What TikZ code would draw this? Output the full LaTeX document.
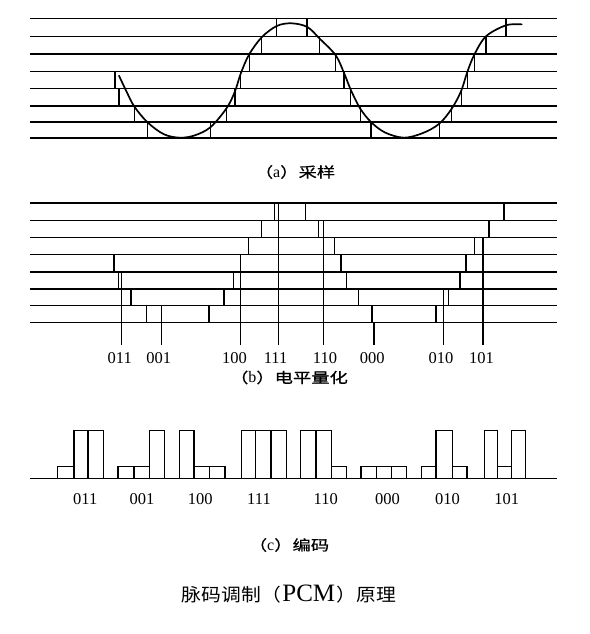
\documentclass[tikz,border=0pt]{standalone}
\usepackage{fontspec}
\setmainfont{Liberation Serif}
\newfontfamily\cjk[FakeStretch=1.28,FakeBold=0.6]{Noto Sans CJK SC}
\newfontfamily\cjkt[FakeStretch=1.1]{Noto Sans CJK SC}
\newcommand\capletter[1]{{\fontsize{16}{16}\selectfont #1}}
\begin{document}
\begin{tikzpicture}[x=1pt,y=-1pt,
  hline/.style={line width=1.25pt},
  vline/.style={line width=1.25pt},
  wave/.style={line width=1.7pt, line join=round, line cap=round},
  bar/.style={draw, line width=1.1pt},
  lab/.style={font=\fontsize{16.5}{17}\selectfont, inner sep=0pt},
  captext/.style={font=\fontsize{14.3}{15}\selectfont, inner sep=0pt},
  ttl/.style={font=\fontsize{18}{19}\selectfont, inner sep=0pt}]
\useasboundingbox[fill=white] (0,0) rectangle (589,634);

% ---------------- (a) sampling ----------------
\foreach \y in {138,122,106,88.7,71.3,54,36.3,18.7}
  \draw[hline] (30,\y) -- (557,\y);
\foreach \x/\k in {115/3,119/2,134.3/1,147.7/0,210.5/0,226.7/1,235/2,240.7/3,249.2/4,261.5/5,276.5/6,
                   307/6,319.8/5,335.5/4,344/3,350.7/2,360.2/1,371/0,
                   439.5/0,451.8/1,461.3/2,467.5/3,474.3/4,486/5,506/6} {
  \pgfmathtruncatemacro\kk{\k+1}
  \pgfmathsetmacro\ylo{{138,122,106,88.7,71.3,54,36.3,18.7}[\k]}
  \pgfmathsetmacro\yhi{{138,122,106,88.7,71.3,54,36.3,18.7}[\kk]}
  \draw[vline] (\x,\ylo) -- (\x,\yhi);
}
\draw[wave] plot[smooth, tension=0.55] coordinates {
  (119,75.7) (126.5,91.5) (134.3,106.5) (147.7,122.5) (164,134.3) (180,137.7) (195,135.3)
  (210.7,127) (226.7,108) (235,91.3) (240.7,73.7) (249,54.7) (261.7,37.3) (276.7,26)
  (291.5,23.3) (307.3,27) (319.7,38.7) (335.7,55.3) (344.3,73.7) (351,90.3) (360.3,108.7)
  (371,122) (385,132.5) (404,137.7) (423,133) (439.3,123.7) (451.7,108.7) (461,91.3)
  (467.3,72) (474.3,54.7) (486,36.3) (506,25.3) (521.7,24.4)};
\node[captext] (capa) at (295,172) {{\cjk （}\capletter{a}{\cjk ）采样}};

% ---------------- (b) quantisation ----------------
\foreach \y in {322.7,305.8,289,272,254.7,237.7,220.3,203}
  \draw[hline] (30,\y) -- (557,\y);
\foreach \x/\k in {274.3/6,305.3/6,504/6, 261.3/5,318.7/5,489/5, 248.7/4,334.3/4,474.3/4,
                   114/3,341/3,466/3, 118.3/2,233.3/2,346.7/2,460/2,
                   131/1,224/1,358.7/1,448.7/1, 146.7/0,209/0,372/0,436/0} {
  \pgfmathtruncatemacro\kk{\k+1}
  \pgfmathsetmacro\ylo{{322.7,305.8,289,272,254.7,237.7,220.3,203}[\k]}
  \pgfmathsetmacro\yhi{{322.7,305.8,289,272,254.7,237.7,220.3,203}[\kk]}
  \draw[vline] (\x,\ylo) -- (\x,\yhi);
}
\foreach \x/\k in {121.7/3,161.3/1,240.7/4,278.7/7,323.3/6,374/0,443.7/2,483/5} {
  \pgfmathsetmacro\yhi{{322.7,305.8,289,272,254.7,237.7,220.3,203}[\k]}
  \draw[vline] (\x,\yhi) -- (\x,344.5);
}
\foreach \x/\t [count=\i] in {119.8/011,158.8/001,234.5/100,275.6/111,325/110,372.2/000,441/010,481.5/101}
  \node[lab] (qb\i) at (\x,358.3) {\t};
\node[captext] (capb) at (289,377.5) {{\cjk （}\capletter{b}{\cjk ）电平量化}};

% ---------------- (c) coding ----------------
\draw[hline] (30,478.3) -- (557,478.3);
\foreach \a/\b/\c/\d/\p/\q/\r in {57.7/74/88/103.3/0/1/1, 118/134/149.3/164.7/0/0/1, 179.7/194/209.3/225/1/0/0,
                               241.3/255.7/271/286.7/1/1/1, 300.7/316/331.7/346.7/1/1/0, 361/376.7/391.7/406.7/0/0/0,
                               421.7/436/452.3/467/0/1/0, 484.7/497.3/511.3/525.7/1/0/1} {
  \pgfmathsetmacro\ta{466.3-36*\p}
  \pgfmathsetmacro\tb{466.3-36*\q}
  \pgfmathsetmacro\tc{466.3-36*\r}
  \draw[bar] (\a,478.3) rectangle (\b,\ta);
  \draw[bar] (\b,478.3) rectangle (\c,\tb);
  \draw[bar] (\c,478.3) rectangle (\d,\tc);
}
\foreach \x/\t [count=\i] in {85.3/011,142/001,200.2/100,259/111,325.8/110,387.5/000,447.5/010,506.7/101}
  \node[lab] (cb\i) at (\x,499) {\t};
\node[captext] (capc) at (289,545) {{\cjk （}\capletter{c}{\cjk ）编码}};

% ---------------- title ----------------
\node[ttl] (title) at (289,594) {{\cjkt 脉码调制（}\hspace{1.5pt}{\fontsize{25}{25}\selectfont PCM}\hspace{1.5pt}{\cjkt ）原理}};
\end{tikzpicture}
\end{document}
